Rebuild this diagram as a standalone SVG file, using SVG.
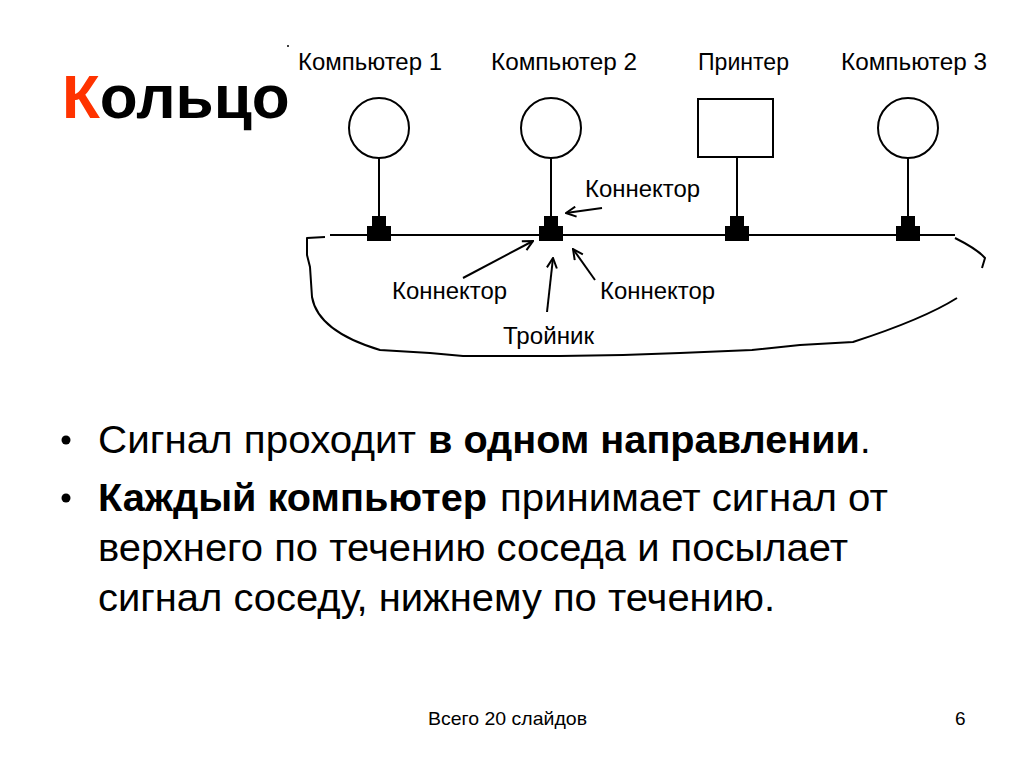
<svg xmlns="http://www.w3.org/2000/svg" width="1024" height="767" viewBox="0 0 1024 767">
<defs>
<style>
.lbl{font-family:"Liberation Sans",Arial,sans-serif;font-size:24px;fill:#000}
.body{font-family:"Liberation Sans",Arial,sans-serif;font-size:38px;fill:#000}
.b{font-weight:bold}
.ln{stroke:#000;stroke-width:2;fill:none}
.node{fill:#fff;stroke:#000;stroke-width:2}
.arr{stroke:#000;stroke-width:2;fill:none;marker-end:url(#ah)}
.ring{stroke:#000;stroke-width:2;fill:none;stroke-linejoin:round}
</style>
<marker id="ah" viewBox="0 0 12 12" refX="11" refY="6" markerWidth="12" markerHeight="12" markerUnits="userSpaceOnUse" orient="auto">
<polyline points="1,1 11,6 1,11" fill="none" stroke="#000" stroke-width="2"/>
</marker>
<g id="tee"><rect x="-7" y="-19" width="14" height="11" fill="#000"/><rect x="-12" y="-9" width="24" height="15" fill="#000"/></g>
</defs>
<rect width="1024" height="767" fill="#fff"/>

<g id="title">
<text x="62" y="118" style="font-family:'Liberation Sans',Arial,sans-serif;font-size:62px;font-weight:bold"><tspan fill="#ff3300">К</tspan><tspan fill="#000">ольцо</tspan></text>
</g>
<circle cx="288" cy="46" r="1" fill="#000"/>

<g id="connectors">
<line class="ln" x1="330" y1="235" x2="955" y2="235"/>
<line class="ln" x1="379" y1="158" x2="379" y2="220"/>
<line class="ln" x1="551" y1="158" x2="551" y2="220"/>
<line class="ln" x1="737" y1="157" x2="737" y2="220"/>
<line class="ln" x1="908" y1="158" x2="908" y2="220"/>
<path class="ring" d="M325,237 L307,238 L307,255 L310,267 L312,297 C316,320 340,338 380,350 L430,353 L463,356 L560,356 L623,355 L680,353 L752,350 L800,345 L853,342 C890,330 930,315 957,298"/>
<path class="ring" d="M955,238 C965,243 978,250 985,258 L982,268"/>
<path class="arr" d="M602,208 L566,213"/>
<path class="arr" d="M463,278 L533,241"/>
<path class="arr" d="M547,312 L553,258"/>
<path class="arr" d="M595,280 L573,249"/>
</g>

<g id="tee1"><use href="#tee" x="379" y="235"/></g>
<g id="tee2"><use href="#tee" x="551" y="235"/></g>
<g id="tee3"><use href="#tee" x="737" y="235"/></g>
<g id="tee4"><use href="#tee" x="908" y="235"/></g>

<g id="comp1"><ellipse class="node" cx="379" cy="128" rx="30" ry="30"/><text class="lbl" x="298" y="70" textLength="144" lengthAdjust="spacingAndGlyphs">Компьютер 1</text></g>
<g id="comp2"><ellipse class="node" cx="551" cy="128" rx="30" ry="30"/><text class="lbl" x="491" y="70" textLength="146" lengthAdjust="spacingAndGlyphs">Компьютер 2</text></g>
<g id="printer"><rect class="node" x="698" y="99" width="75" height="58"/><text class="lbl" x="698" y="70" textLength="91" lengthAdjust="spacingAndGlyphs">Принтер</text></g>
<g id="comp3"><ellipse class="node" cx="908" cy="128" rx="30" ry="30"/><text class="lbl" x="841" y="70" textLength="146" lengthAdjust="spacingAndGlyphs">Компьютер 3</text></g>

<g id="labels">
<text class="lbl" x="585" y="197" textLength="115" lengthAdjust="spacingAndGlyphs">Коннектор</text>
<text class="lbl" x="392" y="299" textLength="115" lengthAdjust="spacingAndGlyphs">Коннектор</text>
<text class="lbl" x="600" y="299" textLength="115" lengthAdjust="spacingAndGlyphs">Коннектор</text>
<text class="lbl" x="503" y="344" textLength="91" lengthAdjust="spacingAndGlyphs">Тройник</text>
</g>

<g id="bullets">
<circle cx="66" cy="440" r="4.5" fill="#000"/>
<circle cx="66" cy="498" r="4.5" fill="#000"/>
<text class="body" x="98" y="453" textLength="318" lengthAdjust="spacingAndGlyphs">Сигнал проходит</text>
<text class="body b" x="428" y="453" textLength="432" lengthAdjust="spacingAndGlyphs">в одном направлении</text>
<text class="body" x="860" y="453">.</text>
<text class="body b" x="98" y="511" textLength="389" lengthAdjust="spacingAndGlyphs">Каждый компьютер</text>
<text class="body" x="500" y="511" textLength="388" lengthAdjust="spacingAndGlyphs">принимает сигнал от</text>
<text class="body" x="98" y="561" textLength="750" lengthAdjust="spacingAndGlyphs">верхнего по течению соседа и посылает</text>
<text class="body" x="98" y="611" textLength="677" lengthAdjust="spacingAndGlyphs">сигнал соседу, нижнему по течению.</text>
</g>

<g id="footer">
<text x="428" y="725" textLength="159" lengthAdjust="spacingAndGlyphs" style="font-family:'Liberation Sans',Arial,sans-serif;font-size:19px">Всего 20 слайдов</text>
<text x="955" y="725" style="font-family:'Liberation Sans',Arial,sans-serif;font-size:19px">6</text>
</g>
</svg>
